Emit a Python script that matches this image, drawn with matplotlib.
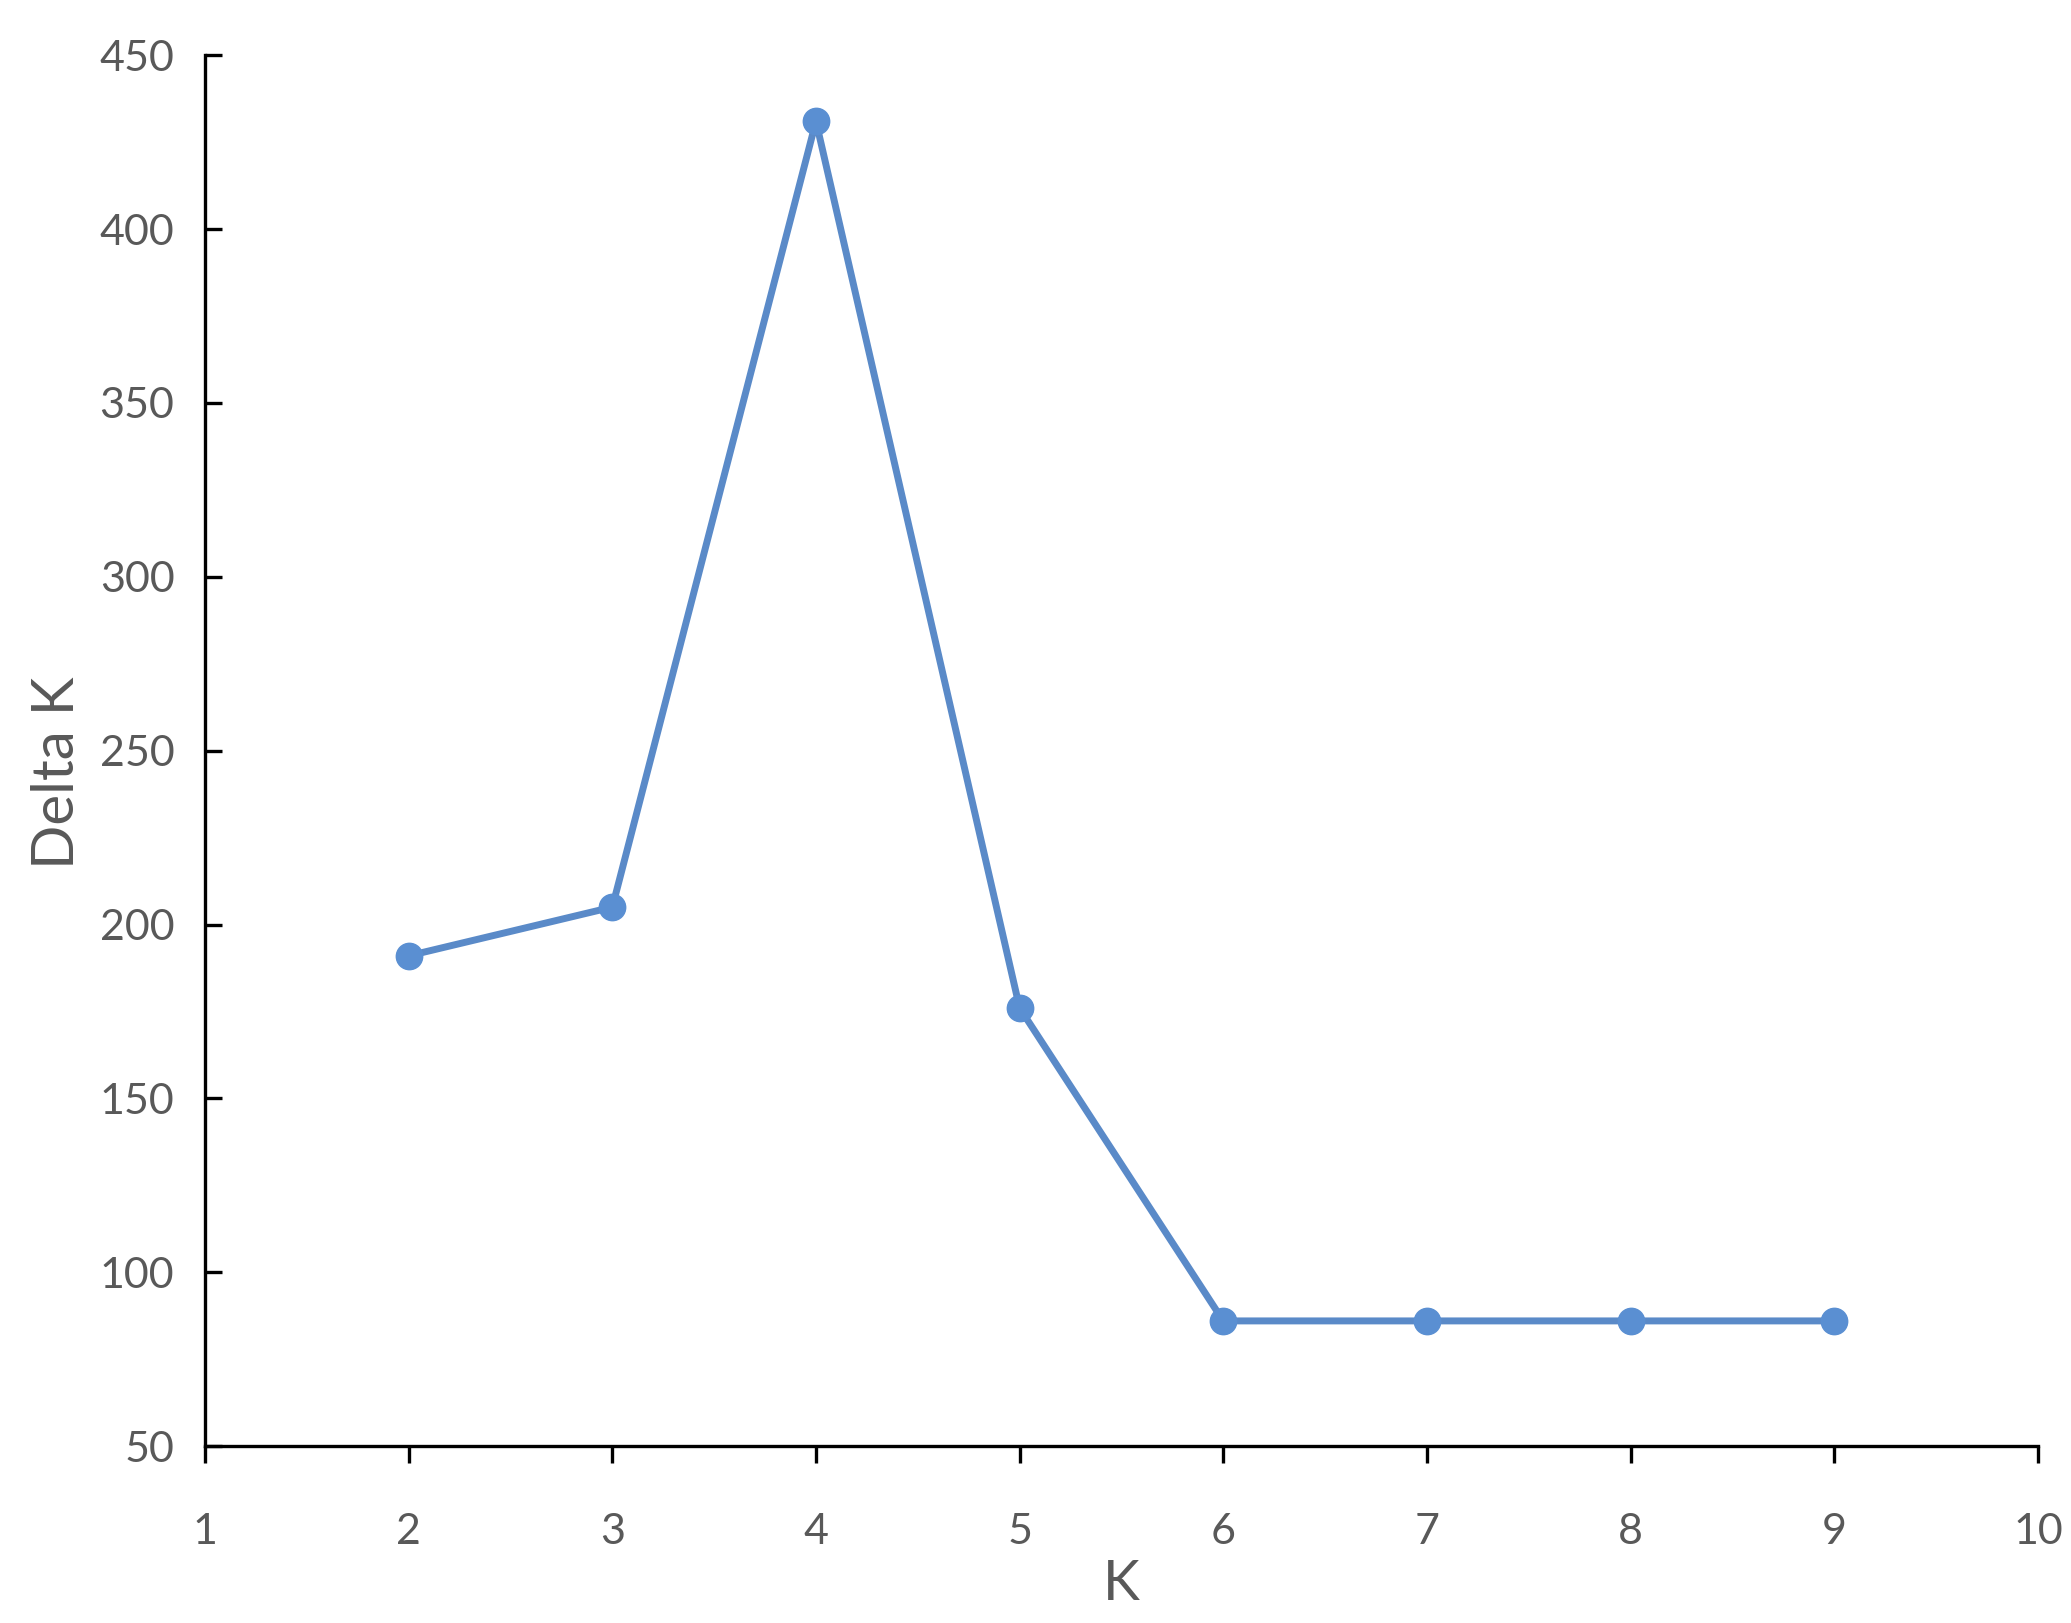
import matplotlib
matplotlib.use('Agg')
from matplotlib import pyplot as plt

# datos
k = [2, 3, 4, 5, 6, 7, 8, 9]
delta_k = [191, 205, 431, 176, 86, 86, 86, 86]
xticks = [1, 2, 3, 4, 5, 6, 7, 8, 9, 10]
yticks = [50, 100, 150, 200, 250, 300, 350, 400, 450]

plt.rcParams['font.family'] = ['Lato', 'DejaVu Sans']

fig = plt.figure(figsize=(20.71, 16.23), dpi=100)
ax = fig.add_axes([0.099, 0.109, 0.885, 0.857])

ax.plot(k, delta_k, color='#5A8AC8', linewidth=5,
        marker='o', markersize=19, markerfacecolor='#5A8FD2',
        markeredgecolor='#5A8FD2', zorder=5)

ax.set_xlim(1, 10)
ax.set_ylim(50, 450)
ax.set_xticks(xticks)
ax.set_yticks(yticks)

for s in ['top', 'right']:
    ax.spines[s].set_visible(False)
for s in ['left', 'bottom']:
    ax.spines[s].set_linewidth(2.4)
    ax.spines[s].set_color('black')

ax.tick_params(axis='x', direction='out', length=12, width=2.4,
               labelsize=31, labelcolor='#595959', pad=36)
ax.tick_params(axis='y', direction='in', length=12, width=2.4,
               labelsize=31, labelcolor='#595959', pad=22)

ax.set_xlabel('K', fontsize=40, color='#595959', labelpad=6)
ax.set_ylabel('Delta K', fontsize=42, color='#595959')
ax.yaxis.set_label_coords(-0.066, 0.484)

plt.savefig('out.png', dpi=100)
